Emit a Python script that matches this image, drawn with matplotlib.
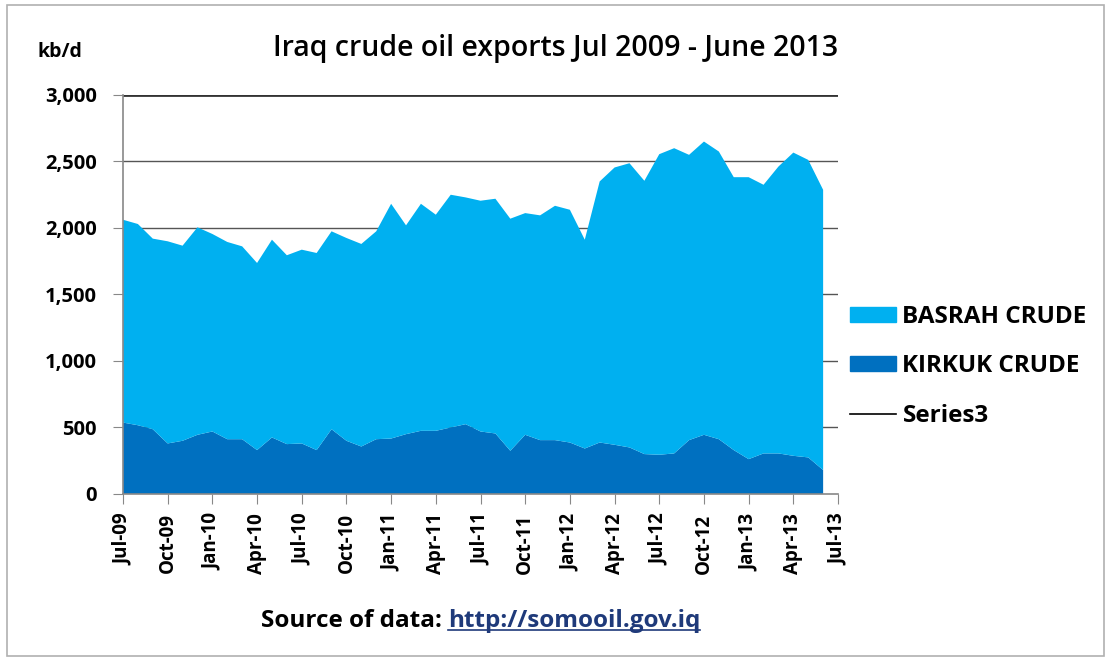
import matplotlib
matplotlib.use("Agg")
import matplotlib.pyplot as plt
from matplotlib.patches import Patch, Rectangle
from matplotlib.lines import Line2D
import numpy as np

# monthly exports, kb/d, Jul-2009 .. Jun-2013
kirkuk = [537, 517, 487, 380, 400, 445, 470, 412, 412, 330, 425, 375,
          380, 330, 487, 400, 357, 412, 417, 450, 475, 475, 500, 525,
          470, 455, 325, 445, 405, 405, 387, 342, 387, 370, 350, 300,
          295, 305, 405, 445, 412, 330, 262, 305, 305, 287, 275, 180]
total = [2062, 2030, 1920, 1900, 1867, 2005, 1955, 1895, 1862, 1737, 1912, 1795,
         1837, 1812, 1975, 1925, 1880, 1975, 2182, 2020, 2182, 2100, 2250, 2230,
         2205, 2220, 2070, 2112, 2095, 2167, 2137, 1912, 2350, 2455, 2487, 2355,
         2555, 2600, 2550, 2650, 2575, 2382, 2382, 2325, 2462, 2567, 2512, 2287]
basrah = [t - k for t, k in zip(total, kirkuk)]
tick_labels = ["Jul-09", "Oct-09", "Jan-10", "Apr-10", "Jul-10", "Oct-10", "Jan-11",
               "Apr-11", "Jul-11", "Oct-11", "Jan-12", "Apr-12", "Jul-12", "Oct-12",
               "Jan-13", "Apr-13", "Jul-13"]
yticks = [0, 500, 1000, 1500, 2000, 2500, 3000]

plt.rcParams["font.family"] = ["Open Sans", "DejaVu Sans"]

fig = plt.figure(figsize=(11.11, 6.68), dpi=100)
fig.patches.append(Rectangle((0.006, 0.018), 0.988, 0.975, transform=fig.transFigure,
                             fill=False, edgecolor="#b0b0b0", lw=1.2))
ax = fig.add_axes([0.1107, 0.2605, 0.6436, 0.5973])

months = np.arange(len(kirkuk))
ax.stackplot(months, kirkuk, basrah, colors=["#0070C0", "#00B0F0"], lw=0, zorder=2)

ax.set_xlim(0, 48)
ax.set_ylim(0, 3000)
ax.set_yticks(yticks)
ax.set_yticklabels([f"{v:,}" for v in yticks], fontsize=14.5, fontweight="bold")
ax.set_xticks(np.arange(0, 49, 3))
ax.set_xticklabels(tick_labels, rotation=90, fontsize=13.5, fontweight="bold")
for v in yticks[1:]:
    ax.axhline(v, color="#555555" if v < 3000 else "#333333", lw=1.0 if v < 3000 else 2.0, zorder=1)
for s in ["top", "right"]:
    ax.spines[s].set_visible(False)
for s in ["left", "bottom"]:
    ax.spines[s].set_color("#888888")
    ax.spines[s].set_linewidth(1.2)
ax.tick_params(axis="y", length=7, color="#888888", pad=12)
ax.tick_params(axis="x", length=7, color="#888888", pad=7)

handles = [Patch(color="#00B0F0"), Patch(color="#0070C0"), Line2D([], [], color="black", lw=1.2)]
ax.legend(handles, ["BASRAH CRUDE", "KIRKUK CRUDE", "Series3"], loc="center left",
          bbox_to_anchor=(1.017, 0.32), frameon=False, prop={"weight": "bold", "size": 17.5},
          handlelength=1.9, handleheight=0.6, labelspacing=1.05, handletextpad=0.25,
          borderpad=0, borderaxespad=0)

fig.text(0.5, 0.928, "Iraq crude oil exports Jul 2009 - June 2013", ha="center", va="center",
         fontsize=20.5, fontweight="semibold")
fig.text(0.054, 0.922, "kb/d", ha="center", va="center", fontsize=14, fontweight="bold")
fig.text(0.403, 0.071, "Source of data: ", ha="right", va="center", fontsize=17.5, fontweight="bold")
url = fig.text(0.403, 0.071, "http://somooil.gov.iq", ha="left", va="center", fontsize=17.5,
               fontweight="bold", color="#1F3A7A")
fig.canvas.draw()
bb = url.get_window_extent().transformed(fig.transFigure.inverted())
fig.add_artist(Line2D([bb.x0, bb.x1], [bb.y0 + 0.004, bb.y0 + 0.004], color="#1F3A7A",
                      lw=1.2, transform=fig.transFigure))

fig.savefig("out.png", dpi=100)
